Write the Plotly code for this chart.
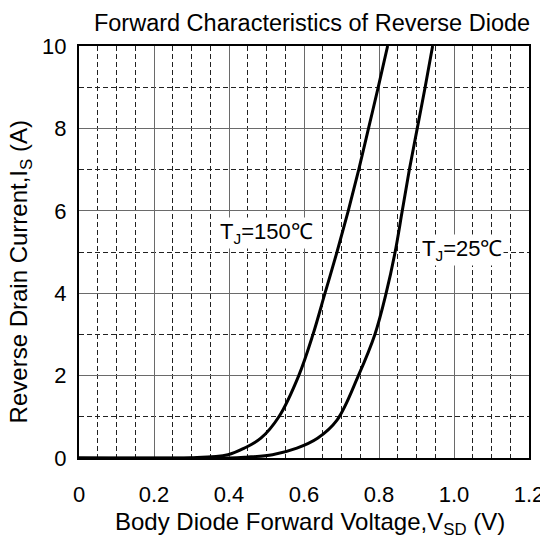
import plotly.graph_objects as go

# Data
v_150 = [0.0, 0.20, 0.30, 0.397, 0.441, 0.485, 0.533, 0.586, 0.624, 0.656, 0.688, 0.718, 0.746, 0.772, 0.798, 0.823]
i_150 = [0.0, 0.0, 0.005, 0.08, 0.24, 0.48, 1.0, 2.0, 3.0, 4.0, 5.0, 6.0, 7.0, 8.0, 9.0, 10.0]

v_25 = [0.0, 0.40, 0.445, 0.516, 0.581, 0.636, 0.688, 0.745, 0.789, 0.819, 0.843, 0.862, 0.881, 0.902, 0.923, 0.943]
i_25 = [0.0, 0.0, 0.02, 0.08, 0.24, 0.48, 0.92, 2.0, 3.0, 4.0, 5.0, 6.0, 7.0, 8.0, 9.0, 10.0]

x_tickvals = [0, 0.2, 0.4, 0.6, 0.8, 1.0, 1.2]
x_ticktext = ["0", "0.2", "0.4", "0.6", "0.8", "1.0", "1.2"]
y_tickvals = [0, 2, 4, 6, 8, 10]
y_ticktext = ["0", "2", "4", "6", "8", "10"]

FONT = "Liberation Sans, Arial, sans-serif"

fig = go.Figure()
for v, i in [(v_150, i_150), (v_25, i_25)]:
    fig.add_trace(go.Scatter(
        x=v, y=i, mode="lines",
        line=dict(color="black", width=3, shape="spline", smoothing=1.0),
        showlegend=False, hoverinfo="skip",
    ))

axis_common = dict(
    showline=True, linecolor="black", linewidth=2, mirror=True,
    showgrid=True, gridcolor="#6a6a6a", gridwidth=1,
    zeroline=False, ticks="", automargin=False,
    tickfont=dict(family=FONT, size=22, color="black"),
)

fig.update_xaxes(
    range=[0, 1.2], tickvals=x_tickvals, ticktext=x_ticktext,
    minor=dict(dtick=0.05, tick0=0, showgrid=True, gridcolor="#222222",
               griddash="5px,3px", gridwidth=1),
    ticklabelstandoff=16,
    **axis_common,
)
fig.update_yaxes(
    range=[0, 10], tickvals=y_tickvals, ticktext=y_ticktext,
    minor=dict(dtick=1, tick0=0, showgrid=True, gridcolor="#222222",
               griddash="5px,3px", gridwidth=1),
    ticklabelstandoff=6,
    **axis_common,
)

# axis titles
fig.add_annotation(x=0.513, y=-0.158, xref="paper", yref="paper",
                   text="Body Diode Forward Voltage,V<sub>SD</sub> (V)",
                   showarrow=False, xanchor="center", yanchor="middle",
                   font=dict(family=FONT, size=24, color="black"))
fig.add_annotation(x=-0.128, y=0.4515, xref="paper", yref="paper",
                   text="Reverse Drain Current,I<sub>S</sub> (A)", textangle=-90,
                   showarrow=False, xanchor="center", yanchor="middle",
                   font=dict(family=FONT, size=24, color="black"))

# curve labels
fig.add_annotation(x=0.499, y=5.46, xref="x", yref="y", text="T<sub>J</sub>=150℃",
                   showarrow=False, bgcolor="white",
                   font=dict(family=FONT, size=22, color="black"))
fig.add_annotation(x=1.022, y=5.05, xref="x", yref="y", text="T<sub>J</sub>=25℃",
                   showarrow=False, bgcolor="white",
                   font=dict(family=FONT, size=22, color="black"))

fig.update_layout(
    width=540, height=529,
    margin=dict(l=71, r=19, t=38, b=79),
    paper_bgcolor="white", plot_bgcolor="white",
    title=dict(text="Forward Characteristics of Reverse Diode",
               x=0.563, xanchor="center", y=0.972, yanchor="middle",
               font=dict(family=FONT, size=23.5, color="black")),
)

fig.write_html("out.html")
